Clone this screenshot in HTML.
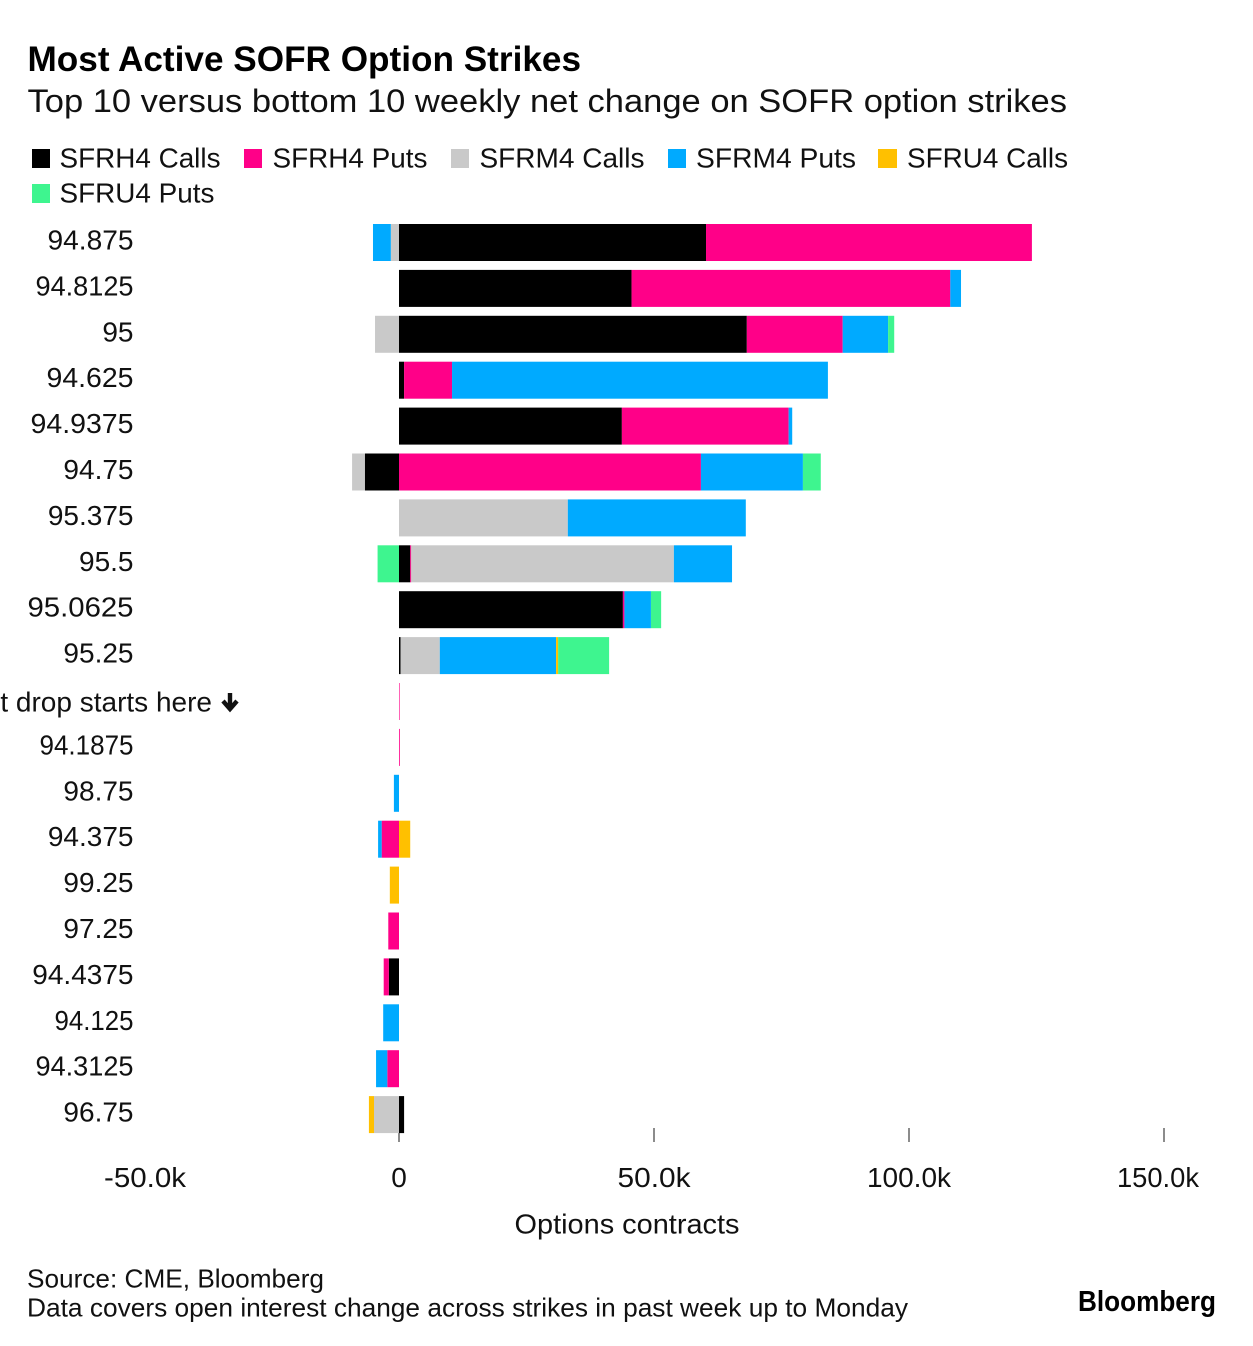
<!DOCTYPE html>
<html lang="en">
<head>
<meta charset="utf-8">
<title>Most Active SOFR Option Strikes</title>
<style>
html,body{margin:0;padding:0;background:#fff;}
body{width:1253px;height:1346px;overflow:hidden;position:relative;font-family:"Liberation Sans",Arial,sans-serif;color:#000;}
svg{position:absolute;left:0;top:0;}
text{font-family:"Liberation Sans",Arial,sans-serif;fill:#111;}
</style>
</head>
<body>
<svg id="chart" width="1253" height="1346" viewBox="0 0 1253 1346" xmlns="http://www.w3.org/2000/svg">
  <text x="27.5" y="71" font-size="35" font-weight="700" textLength="553.5" lengthAdjust="spacingAndGlyphs" style="fill:#000">Most Active SOFR Option Strikes</text>
  <text x="27.5" y="112" font-size="32" textLength="1039.5" lengthAdjust="spacingAndGlyphs">Top 10 versus bottom 10 weekly net change on SOFR option strikes</text>

  <g>
    <g><rect x="32" y="149" width="18" height="19" fill="#000000"/><text x="59.5" y="167.5" font-size="28" textLength="161" lengthAdjust="spacingAndGlyphs">SFRH4 Calls</text></g>
    <g><rect x="244" y="149" width="18" height="19" fill="#ff0088"/><text x="272.5" y="167.5" font-size="28" textLength="155" lengthAdjust="spacingAndGlyphs">SFRH4 Puts</text></g>
    <g><rect x="451" y="149" width="18" height="19" fill="#c9c9c9"/><text x="479.5" y="167.5" font-size="28" textLength="165" lengthAdjust="spacingAndGlyphs">SFRM4 Calls</text></g>
    <g><rect x="668" y="149" width="18" height="19" fill="#00aaff"/><text x="696" y="167.5" font-size="28" textLength="160" lengthAdjust="spacingAndGlyphs">SFRM4 Puts</text></g>
    <g><rect x="878" y="149" width="19" height="19" fill="#ffc000"/><text x="907" y="167.5" font-size="28" textLength="161" lengthAdjust="spacingAndGlyphs">SFRU4 Calls</text></g>
    <g><rect x="32" y="184" width="18" height="19" fill="#3ef58f"/><text x="59.5" y="202.5" font-size="28" textLength="155" lengthAdjust="spacingAndGlyphs">SFRU4 Puts</text></g>
  </g>

  <g id="y-labels"></g>
  <g id="x-axis"></g>
  <g id="bars"></g>

  <text x="627" y="1233.5" font-size="28" text-anchor="middle" textLength="225" lengthAdjust="spacingAndGlyphs">Options contracts</text>
  <text x="27" y="1287.5" font-size="26" textLength="297" lengthAdjust="spacingAndGlyphs">Source: CME, Bloomberg</text>
  <text x="27" y="1316.5" font-size="26" textLength="881" lengthAdjust="spacingAndGlyphs">Data covers open interest change across strikes in past week up to Monday</text>
  <text x="1078" y="1311" font-size="29" font-weight="700" textLength="138" lengthAdjust="spacingAndGlyphs" style="fill:#000">Bloomberg</text>
</svg>
<script>
const categories = ["94.875","94.8125","95","94.625","94.9375","94.75","95.375","95.5","95.0625","95.25","Largest drop starts here","94.1875","98.75","94.375","99.25","97.25","94.4375","94.125","94.3125","96.75"];
const sfrh4Calls = [60.2,45.6,68.2,1.0,43.7,-6.7,0,2.2,43.9,0.3,0,0,0,0,0,0,-2.0,0,0,1.0];
const sfrh4Puts  = [63.9,62.5,18.8,9.4,32.7,59.2,0,0.2,0.3,0,0.12,0.16,0,-3.4,0,-2.1,-1.0,0,-2.3,0];
const sfrm4Calls = [-1.6,0,-4.7,0,0,-2.5,33.1,51.5,0,7.7,0,0,0,0,0,0,0,0,0,-4.9];
const sfrm4Puts  = [-3.5,2.1,8.9,73.7,0.7,20.0,34.9,11.4,5.2,22.8,0,0,-1.0,-0.7,0,0,0,-3.1,-2.2,0];
const sfru4Calls = [0,0,0,0,0,0,0,0,0,0.4,0,0,0,2.2,-1.8,0,0,0,0,-1.0];
const sfru4Puts  = [0,0,1.2,0,0,3.5,0,-4.2,2.0,10.0,0,0,0,0,0,0,0,0,0,0];
const seriesNames = ["sfrh4-calls","sfrh4-puts","sfrm4-calls","sfrm4-puts","sfru4-calls","sfru4-puts"];
const seriesColors = ["#000000","#ff0088","#c9c9c9","#00aaff","#ffc000","#3ef58f"];
const seriesValues = [sfrh4Calls,sfrh4Puts,sfrm4Calls,sfrm4Puts,sfru4Calls,sfru4Puts];
const tickValues = [-50,0,50,100,150];
const tickLabels = ["-50.0k","0","50.0k","100.0k","150.0k"];

const NS = "http://www.w3.org/2000/svg";
function xScale(v){ return 399 + v * 5.1; }
function yBand(i){ return 224 + i * 45.9; }
const bandHeight = 37;

/* Reference typeface sets some numerals narrower or wider than Liberation Sans. */
function fitWidth(el, text){
  const w = {"94.8125":98,"94.9375":103,"94.1875":94,"94.3125":98,"94.125":79,"95.0625":106,"94.625":87,"94.875":86,"-50.0k":82,"50.0k":73,"150.0k":82}[text];
  if (w) {
    el.setAttribute("textLength", w);
    el.setAttribute("lengthAdjust", "spacingAndGlyphs");
  }
}

const barsGroup = document.getElementById("bars");
const labelsGroup = document.getElementById("y-labels");
const axisGroup = document.getElementById("x-axis");

tickValues.forEach(function(t, k){
  if (t !== -50) {
    const tick = document.createElementNS(NS, "line");
    
    
    tick.setAttribute("x1", xScale(t));
    tick.setAttribute("x2", xScale(t));
    tick.setAttribute("y1", 1128);
    tick.setAttribute("y2", 1142);
    tick.setAttribute("stroke", "#666");
    tick.setAttribute("stroke-width", "1.5");
    axisGroup.appendChild(tick);
  }
  const label = document.createElementNS(NS, "text");
  
  
  label.setAttribute("x", Math.min(xScale(t) + (t === -50 ? 1 : 0), 1158));
  label.setAttribute("y", 1187);
  label.setAttribute("font-size", "28");
  label.setAttribute("text-anchor", "middle");
  label.textContent = tickLabels[k];
  fitWidth(label, tickLabels[k]);
  axisGroup.appendChild(label);
});

categories.forEach(function(name, i){
  const isDrop = name.indexOf("Largest") === 0;
  const label = document.createElementNS(NS, "text");
  
  
  label.setAttribute("x", isDrop ? 212 : 133.5);
  label.setAttribute("y", yBand(i) + (isDrop ? 28.5 : 25.5));
  label.setAttribute("font-size", "28");
  label.setAttribute("text-anchor", "end");
  label.textContent = name;
  fitWidth(label, name);
  labelsGroup.appendChild(label);
  if (isDrop) {
    const arrow = document.createElementNS(NS, "path");
    
    
    const cx = 230, top = yBand(i) + 10;
    arrow.setAttribute("d", "M" + cx + " " + top + "V" + (top + 15) + "M" + (cx - 7) + " " + (top + 8) + "L" + cx + " " + (top + 16) + "L" + (cx + 7) + " " + (top + 8));
    arrow.setAttribute("fill", "none");
    arrow.setAttribute("stroke", "#111");
    arrow.setAttribute("stroke-width", "4.4");
    labelsGroup.appendChild(arrow);
  }
  let pos = 0, neg = 0;
  seriesValues.forEach(function(values, s){
    const v = values[i];
    if (!v) return;
    const start = v > 0 ? pos : neg;
    const end = start + v;
    if (v > 0) pos = end; else neg = end;
    const bar = document.createElementNS(NS, "rect");
    
    
    bar.setAttribute("data-series", seriesNames[s]);
    bar.setAttribute("x", Math.min(xScale(start), xScale(end)));
    bar.setAttribute("y", yBand(i));
    bar.setAttribute("width", Math.abs(xScale(end) - xScale(start)));
    bar.setAttribute("height", bandHeight);
    bar.setAttribute("fill", seriesColors[s]);
    barsGroup.appendChild(bar);
  });
});
</script>
</body>
</html>
